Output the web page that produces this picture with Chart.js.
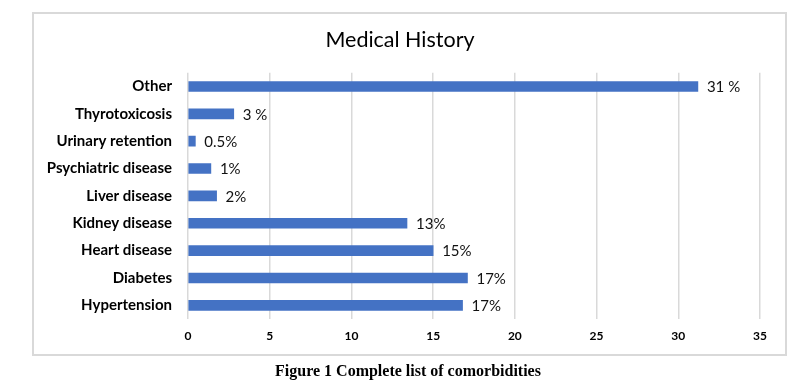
<!DOCTYPE html>
<html>
<head>
<meta charset="utf-8">
<script src="https://cdn.jsdelivr.net/npm/chart.js@4/dist/chart.umd.min.js"></script>
<style>
  body { margin: 0; background: #fff; }
  #wrap { position: relative; width: 806px; height: 386px; }
  #box { position: absolute; left: 32px; top: 12px; width: 751px; height: 340px; border: 2px solid #d9d9d9; }
  #chartCanvas { position: absolute; left: 0; top: 0; }
  #caption { position: absolute; left: 0; top: 362px; width: 816px; text-align: center;
             font: bold 16px "Liberation Serif", "Times New Roman", serif; color: #000; }
</style>
</head>
<body>
<div id="wrap">
  <div id="box"></div>
  <canvas id="chartCanvas" width="806" height="386"></canvas>
  <div id="caption">Figure 1 Complete list of comorbidities</div>
</div>
<script>
var categories = ["Other", "Thyrotoxicosis", "Urinary retention", "Psychiatric disease", "Liver disease",
                  "Kidney disease", "Heart disease", "Diabetes", "Hypertension"];
var values = [31.2, 2.8, 0.45, 1.4, 1.75, 13.4, 15, 17.1, 16.8];
var valueLabels = ["31 %", "3 %", "0.5%", "1%", "2%", "13%", "15%", "17%", "17%"];

// draws the percentage text to the right of each bar
var barLabels = {
    id: 'barLabels',
    afterDatasetsDraw: function(chart) {
        var ctx = chart.ctx;
        var meta = chart.getDatasetMeta(0);
        ctx.save();
        ctx.font = '15px Lato';
        ctx.fillStyle = '#111';
        ctx.textBaseline = 'middle';
        meta.data.forEach(function(bar, i) {
            ctx.fillText(valueLabels[i], bar.x + 9, bar.y + 1);
        });
        ctx.restore();
    }
};

var ctx = document.getElementById('chartCanvas').getContext('2d');
var chart = new Chart(ctx, {
    type: 'bar',
    data: {
        labels: categories,
        datasets: [{
            label: 'Medical History',
            backgroundColor: '#4472c4',
            borderWidth: 0,
            barThickness: 10,
            data: values
        }]
    },
    plugins: [barLabels],
    options: {
        indexAxis: 'y',
        responsive: false,
        animation: false,
        layout: {
            padding: { left: 40, right: 46, top: 15, bottom: 0 }
        },
        plugins: {
            legend: { display: false },
            tooltip: { enabled: false },
            title: {
                display: true,
                text: 'Medical History',
                color: '#000',
                font: { family: 'Lato', size: 21.5, weight: 'normal' },
                padding: { top: 12, bottom: 20 }
            }
        },
        scales: {
            x: {
                min: 0,
                max: 35,
                ticks: {
                    stepSize: 5,
                    color: '#000',
                    padding: 10,
                    font: { family: 'Lato', size: 12, weight: 'bold' }
                },
                grid: { color: '#d9d9d9', lineWidth: 1.5, drawTicks: false },
                border: { display: false },
                afterFit: function(scale) { scale.height = 67; }
            },
            y: {
                ticks: {
                    color: '#000',
                    padding: 16,
                    font: { family: 'Lato', size: 15, weight: 'bold' }
                },
                grid: { display: false, drawTicks: false },
                border: { display: false },
                afterFit: function(scale) { scale.width = 148; }
            }
        }
    }
});
</script>
</body>
</html>
